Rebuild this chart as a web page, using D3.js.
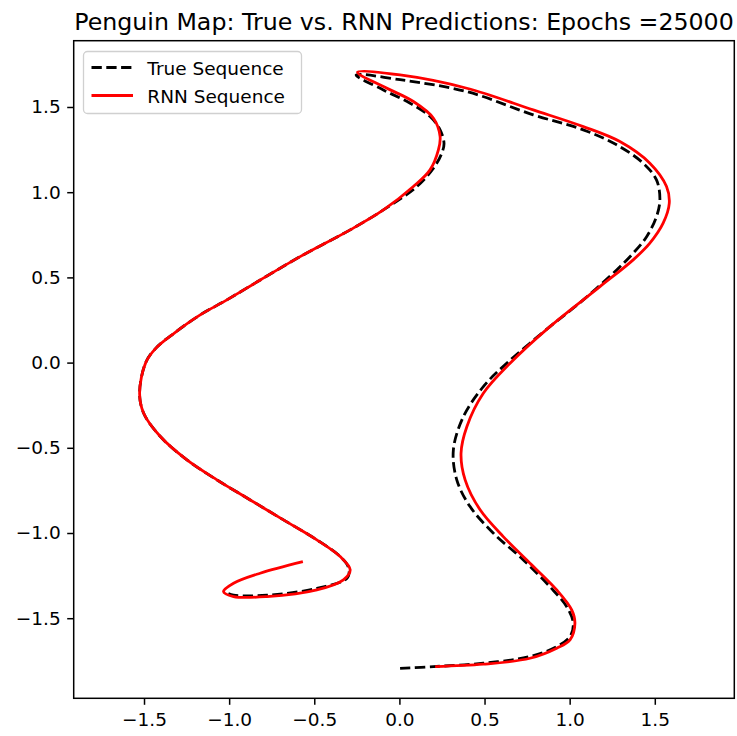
<!DOCTYPE html>
<html>
<head>
<meta charset="utf-8">
<script src="https://cdn.jsdelivr.net/npm/d3@7"></script>
<style>
  body { margin: 0; background: #fff; }
  svg text { font-family: "DejaVu Sans", sans-serif; fill: #000; }
</style>
</head>
<body>
<svg id="chart" width="737" height="736"></svg>
<script>
const title = "Penguin Map: True vs. RNN Predictions: Epochs =25000";
const seriesNames = ["True Sequence", "RNN Sequence"];
const xTicks = [-1.5, -1.0, -0.5, 0.0, 0.5, 1.0, 1.5];
const yTicks = [-1.5, -1.0, -0.5, 0.0, 0.5, 1.0, 1.5];

// true path (x, y)
const trueX = [0.004, 0.200, 0.493, 0.767, 0.924, 1.002, 1.021, 0.982, 0.884, 0.728, 0.552, 0.415, 0.337, 0.317, 0.376, 0.493, 0.630, 0.884, 1.080, 1.276, 1.373, 1.452, 1.510, 1.530, 1.510, 1.432, 1.276, 1.080, 0.786, 0.396, 0.004, -0.254, -0.094, 0.063, 0.180, 0.239, 0.262, 0.249, 0.200, 0.102, -0.094, -0.289, -0.583, -0.817, -1.013, -1.170, -1.320, -1.430, -1.490, -1.526, -1.502, -1.404, -1.248, -1.072, -0.876, -0.681, -0.485, -0.348, -0.300, -0.305, -0.485, -0.778, -0.974, -1.020];
const trueY = [-1.794, -1.784, -1.764, -1.725, -1.667, -1.608, -1.529, -1.432, -1.315, -1.158, -1.001, -0.845, -0.688, -0.512, -0.317, -0.141, -0.004, 0.211, 0.368, 0.544, 0.642, 0.739, 0.857, 0.955, 1.072, 1.170, 1.278, 1.366, 1.454, 1.590, 1.660, 1.688, 1.600, 1.522, 1.444, 1.366, 1.287, 1.229, 1.141, 1.033, 0.896, 0.779, 0.622, 0.485, 0.368, 0.280, 0.175, 0.085, 0.000, -0.180, -0.297, -0.434, -0.571, -0.688, -0.806, -0.923, -1.040, -1.138, -1.200, -1.262, -1.325, -1.365, -1.365, -1.348];

// rnn path
const rnnX = [0.210, 0.493, 0.767, 0.924, 1.002, 1.031, 1.012, 0.924, 0.767, 0.610, 0.474, 0.386, 0.362, 0.396, 0.493, 0.650, 0.884, 1.178, 1.373, 1.471, 1.549, 1.585, 1.569, 1.471, 1.295, 1.080, 0.786, 0.396, 0.004, -0.246, -0.094, 0.082, 0.200, 0.239, 0.229, 0.180, 0.082, -0.094, -0.289, -0.583, -0.817, -1.013, -1.170, -1.320, -1.430, -1.490, -1.526, -1.502, -1.404, -1.248, -1.072, -0.876, -0.681, -0.485, -0.348, -0.289, -0.329, -0.485, -0.778, -0.974, -1.033, -0.974, -0.818, -0.567];
const rnnY = [-1.784, -1.770, -1.735, -1.676, -1.627, -1.529, -1.451, -1.334, -1.177, -1.021, -0.864, -0.688, -0.532, -0.376, -0.180, -0.004, 0.211, 0.446, 0.603, 0.701, 0.818, 0.935, 1.033, 1.170, 1.297, 1.385, 1.483, 1.610, 1.688, 1.704, 1.620, 1.532, 1.434, 1.326, 1.248, 1.131, 1.033, 0.896, 0.779, 0.622, 0.485, 0.368, 0.280, 0.175, 0.085, 0.000, -0.180, -0.297, -0.434, -0.571, -0.688, -0.806, -0.923, -1.040, -1.138, -1.216, -1.275, -1.334, -1.373, -1.373, -1.344, -1.295, -1.236, -1.168];

const svg = d3.select("#chart");
const mLeft = 73.7, mTop = 40.7, mRight = 734.3, mBottom = 698.3;

const x = d3.scaleLinear().domain([-1.913, 1.967]).range([mLeft, mRight]);
const y = d3.scaleLinear().domain([-1.970, 1.889]).range([mBottom, mTop]);

const fmt = d => d3.format(".1f")(d).replace("-", "\u2212");

// axes
const xAxis = svg.append("g")
    .attr("transform", `translate(0, ${mBottom})`)
    .call(d3.axisBottom(x).tickValues(xTicks).tickSize(6.5).tickPadding(8).tickFormat(fmt));
const yAxis = svg.append("g")
    .attr("transform", `translate(${mLeft}, 0)`)
    .call(d3.axisLeft(y).tickValues(yTicks).tickSize(6.5).tickPadding(6.5).tickFormat(fmt));
[xAxis, yAxis].forEach(a => {
    a.select(".domain").remove();
    a.selectAll("line").attr("stroke", "#000").attr("stroke-width", 1.5);
    a.selectAll("text").style("font-size", "18.5px").attr("fill", "#000");
});

svg.append("clipPath").attr("id", "clip")
    .append("rect").attr("x", mLeft).attr("y", mTop)
    .attr("width", mRight - mLeft).attr("height", mBottom - mTop);

const line = d3.line()
    .x(d => x(d[0]))
    .y(d => y(d[1]))
    .curve(d3.curveCatmullRom.alpha(0.5));

const truePts = trueX.map((v, i) => [v, trueY[i]]);
const rnnPts = rnnX.map((v, i) => [v, rnnY[i]]);

const plot = svg.append("g").attr("clip-path", "url(#clip)");
plot.append("path")
    .datum(truePts)
    .attr("d", line)
    .attr("fill", "none")
    .attr("stroke", "#000")
    .attr("stroke-width", 2.8)
    .attr("stroke-dasharray", "10.3,4.5");
plot.append("path")
    .datum(rnnPts)
    .attr("d", line)
    .attr("fill", "none")
    .attr("stroke", "#ff0000")
    .attr("stroke-width", 2.8);

// frame
svg.append("rect")
    .attr("x", mLeft).attr("y", mTop)
    .attr("width", mRight - mLeft).attr("height", mBottom - mTop)
    .attr("fill", "none").attr("stroke", "#000").attr("stroke-width", 1.5);

// title
svg.append("text")
    .attr("x", (mLeft + mRight) / 2).attr("y", 29.5)
    .attr("text-anchor", "middle")
    .style("font-size", "23.7px")
    .text(title);

// legend
const lg = svg.append("g");
lg.append("rect")
    .attr("x", 83.5).attr("y", 51.5).attr("width", 218).attr("height", 62)
    .attr("rx", 4).attr("fill", "#fff").attr("fill-opacity", 0.8)
    .attr("stroke", "#d0d0d0").attr("stroke-width", 1.3);
const styles = [{ color: "#000", dash: "10.3,4.5" }, { color: "#ff0000", dash: null }];
seriesNames.forEach((name, i) => {
    const ly = 67.5 + i * 28;
    lg.append("line")
        .attr("x1", 91.5).attr("x2", 133).attr("y1", ly).attr("y2", ly)
        .attr("stroke", styles[i].color).attr("stroke-width", 2.8)
        .attr("stroke-dasharray", styles[i].dash);
    lg.append("text")
        .attr("x", 147.3).attr("y", ly + 7)
        .style("font-size", "18.5px")
        .text(name);
});
</script>
</body>
</html>
